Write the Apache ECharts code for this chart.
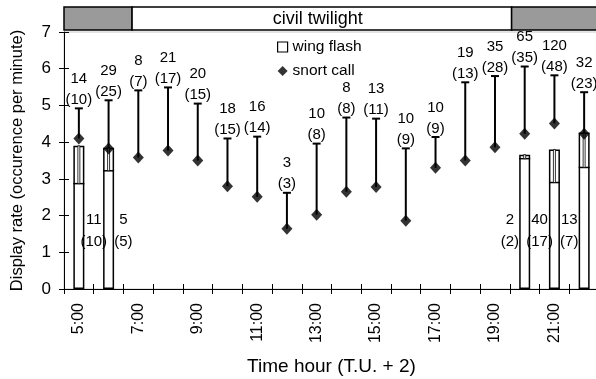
<!DOCTYPE html>
<html>
<head>
<meta charset="utf-8">
<script src="https://cdn.jsdelivr.net/npm/echarts@6/dist/echarts.min.js"></script>
<style>html,body{margin:0;padding:0;background:#fff;}#c{width:596px;height:379px;}</style>
</head>
<body>
<div id="c"></div>
<script>
// ---- data ----
var hours = ['5:00','6:00','7:00','8:00','9:00','10:00','11:00','12:00','13:00','14:00','15:00','16:00','17:00','18:00','19:00','20:00','21:00','22:00'];
var snortMean = [4.10, 3.83, 3.58, 3.77, 3.50, 2.80, 2.51, 1.64, 2.02, 2.65, 2.78, 1.86, 3.30, 3.50, 3.86, 4.23, 4.51, 4.23];
var snortUpper = [4.92, 5.14, 5.41, 5.49, 5.05, 4.10, 4.15, 2.62, 3.96, 4.67, 4.64, 3.83, 4.14, 5.63, 5.80, 6.06, 5.82, 5.36];
var snortN = [14, 29, 8, 21, 20, 18, 16, 3, 10, 8, 13, 10, 10, 19, 35, 65, 120, 32];
var snortBirds = [10, 25, 7, 17, 15, 15, 14, 3, 8, 8, 11, 9, 9, 13, 28, 35, 48, 23];
var wingMean = [2.87, 3.22, null, null, null, null, null, null, null, null, null, null, null, null, null, 3.55, 2.90, 3.31];
var wingUpper = [3.90, 3.85, null, null, null, null, null, null, null, null, null, null, null, null, null, 3.66, 3.80, 4.26];
var wingN = [11, 5, null, null, null, null, null, null, null, null, null, null, null, null, null, 2, 40, 13];
var wingBirds = [10, 5, null, null, null, null, null, null, null, null, null, null, null, null, null, 2, 17, 7];
var yTicks = [0, 1, 2, 3, 4, 5, 6, 7];
var bandStart = [4.5, 6.79, 19.56];
var bandEnd = [6.79, 19.56, 22.5];
var bandText = ['', 'civil twilight', ''];
var bandDark = [true, false, true];

var FONT = "'Liberation Sans', Arial, sans-serif";
var chart = echarts.init(document.getElementById('c'));

var snortData = snortMean.map(function (v, i) { return [i, v, snortUpper[i], snortN[i], snortBirds[i]]; });
var wingData = wingMean.map(function (v, i) { return [i, v, wingUpper[i], wingN[i], wingBirds[i]]; }).filter(function (d) { return d[1] != null; });
var bandData = bandStart.map(function (s, i) { return [s, bandEnd[i], i]; });

var option = {
  animation: false,
  textStyle: { fontFamily: FONT },
  grid: [
    { left: 64, right: -3, top: 32, bottom: 90, outerBoundsMode: 'none', containLabel: false, show: true, borderColor: '#c8c8c8', borderWidth: 1, backgroundColor: 'transparent' },
    { left: 64, right: -3, top: 7, height: 23, outerBoundsMode: 'none', containLabel: false }
  ],
  legend: {
    orient: 'vertical', left: 272, top: 34, itemWidth: 10, itemHeight: 10, itemGap: 8,
    textStyle: { fontFamily: FONT, fontSize: 15.5, color: '#000' },
    data: [
      { name: 'wing flash', icon: 'rect', itemStyle: { color: '#fff', borderColor: '#000', borderWidth: 1.2 } },
      { name: 'snort call', icon: 'diamond', itemStyle: { color: '#000' } }
    ]
  },
  xAxis: [
    {
      type: 'category', gridIndex: 0, data: hours, boundaryGap: true,
      name: 'Time hour (T.U. + 2)', nameLocation: 'middle', nameGap: 68,
      nameTextStyle: { fontFamily: FONT, fontSize: 19, color: '#000' },
      axisLine: { lineStyle: { color: '#000', width: 1 } },
      axisTick: { show: true, interval: 0, length: 5, lineStyle: { color: '#000' } },
      axisLabel: { interval: 1, rotate: 90, margin: 14, fontFamily: FONT, fontSize: 16, color: '#000' },
      splitLine: { show: false }
    },
    {
      type: 'category', gridIndex: 0, data: hours, boundaryGap: true, position: 'bottom',
      axisLine: { show: false },
      axisTick: { show: true, inside: true, interval: 0, length: 5, lineStyle: { color: '#000' } },
      axisLabel: { show: false }, splitLine: { show: false }
    },
    { type: 'value', gridIndex: 1, min: 4.5, max: 22.5, show: false }
  ],
  yAxis: [
    {
      type: 'value', gridIndex: 0, min: yTicks[0], max: yTicks[yTicks.length - 1], interval: 1,
      name: 'Display rate (occurence per minute)', nameLocation: 'middle', nameGap: 38,
      nameTextStyle: { fontFamily: FONT, fontSize: 16.5, color: '#000' },
      axisLine: { show: true, lineStyle: { color: '#000', width: 1 } },
      axisTick: { show: true, length: 5, lineStyle: { color: '#000' } },
      axisLabel: { margin: 13, fontFamily: FONT, fontSize: 17, color: '#000' },
      splitLine: { show: false }
    },
    {
      type: 'value', gridIndex: 0, min: 0, max: 7, interval: 1, position: 'left',
      axisLine: { show: false },
      axisTick: { show: true, inside: true, length: 5, lineStyle: { color: '#000' } },
      axisLabel: { show: false }, splitLine: { show: false }
    },
    { type: 'value', gridIndex: 1, min: 0, max: 1, show: false }
  ],
  series: [
    {
      type: 'custom', name: 'band', xAxisIndex: 2, yAxisIndex: 2, silent: true,
      data: bandData,
      renderItem: function (params, api) {
        var a = api.coord([api.value(0), 1]);
        var b = api.coord([api.value(1), 0]);
        var idx = api.value(2);
        var children = [{
          type: 'rect',
          shape: { x: a[0], y: a[1], width: b[0] - a[0], height: b[1] - a[1] },
          style: { fill: bandDark[idx] ? '#9a9a9a' : '#fff', stroke: '#000', lineWidth: 1.5 }
        }];
        if (bandText[idx]) {
          children.push({
            type: 'text',
            style: { text: bandText[idx], x: (a[0] + b[0]) / 2 - 4, y: (a[1] + b[1]) / 2 + 1, align: 'center', verticalAlign: 'middle', fontFamily: FONT, fontSize: 18, fill: '#000' }
          });
        }
        return { type: 'group', children: children };
      }
    },
    {
      type: 'bar', name: 'wing flash', xAxisIndex: 0, yAxisIndex: 0, barWidth: 11, z: 2,
      data: wingUpper,
      itemStyle: { color: '#fff', borderColor: '#000', borderWidth: 1.5 }
    },
    {
      type: 'custom', name: 'wing flash detail', xAxisIndex: 0, yAxisIndex: 0, z: 3, silent: true,
      data: wingData,
      renderItem: function (params, api) {
        var i = api.value(0);
        var pm = api.coord([i, api.value(1)]);
        var pt = api.coord([i, api.value(2)]);
        var p0 = api.coord([i, 0]);
        var w = api.size([1, 0])[0];
        var side = i < hours.length / 2 ? 1 : -1;
        var lx = p0[0] + side * w / 2;
        return {
          type: 'group', children: [
            { type: 'line', shape: { x1: pm[0] - 5.5, y1: pm[1], x2: pm[0] + 5.5, y2: pm[1] }, style: { stroke: '#000', lineWidth: 1.5 } },
            { type: 'rect', shape: { x: pm[0] - 1, y: pt[1], width: 2, height: pm[1] - pt[1] }, style: { fill: '#fff', stroke: '#000', lineWidth: 0.8 } },
            { type: 'text', style: { text: String(api.value(3)) + '\n(' + api.value(4) + ')', x: lx, y: p0[1] - 36, align: 'center', verticalAlign: 'bottom', lineHeight: 22, fontFamily: FONT, fontSize: 15, fill: '#000' } }
          ]
        };
      }
    },
    {
      type: 'custom', name: 'snort error', xAxisIndex: 0, yAxisIndex: 0, z: 4, silent: true,
      data: snortData,
      renderItem: function (params, api) {
        var i = api.value(0);
        var pm = api.coord([i, api.value(1)]);
        var pu = api.coord([i, api.value(2)]);
        return {
          type: 'group', children: [
            { type: 'line', shape: { x1: pm[0], y1: pm[1], x2: pu[0], y2: pu[1] }, style: { stroke: '#000', lineWidth: 2 } },
            { type: 'line', shape: { x1: pu[0] - 4, y1: pu[1], x2: pu[0] + 4, y2: pu[1] }, style: { stroke: '#000', lineWidth: 2 } },
            { type: 'text', style: { text: String(api.value(3)) + '\n(' + api.value(4) + ')', x: pu[0], y: pu[1] + 2, align: 'center', verticalAlign: 'bottom', lineHeight: 21, fontFamily: FONT, fontSize: 15, fill: '#000' } }
          ]
        };
      }
    },
    {
      type: 'scatter', name: 'snort call', xAxisIndex: 0, yAxisIndex: 0, z: 5,
      symbol: 'diamond', symbolSize: [11, 12],
      itemStyle: { color: '#000' },
      data: snortMean
    }
  ]
};
chart.setOption(option);
</script>
</body>
</html>
